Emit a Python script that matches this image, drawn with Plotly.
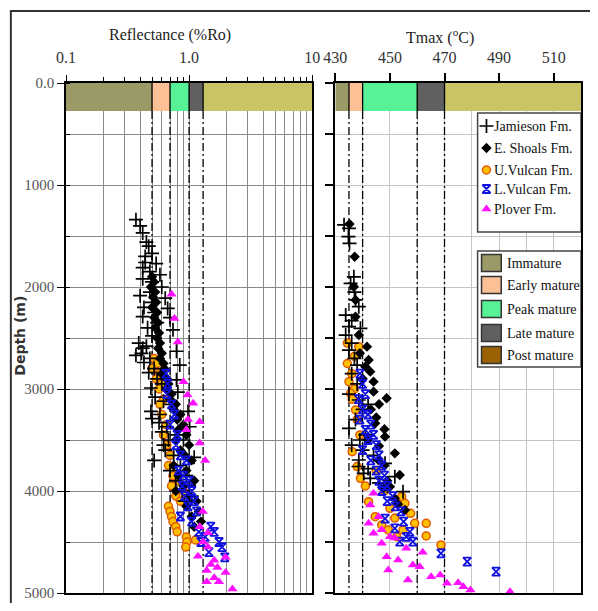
import plotly.graph_objects as go

# ---------------- DATA ----------------
# Reflectance panel: (depth m, Ro %)
jamieson_ro = [(1340,0.37),(1400,0.40),(1470,0.42),(1560,0.45),(1600,0.47),(1670,0.50),(1700,0.44),(1760,0.44),
               (1770,0.54),(1810,0.42),(1850,0.48),(1880,0.58),(1920,0.42),(1950,0.50),(2000,0.60),(2050,0.48),
               (2085,0.40),(2110,0.64),(2150,0.50),(2200,0.43),(2210,0.67),(2250,0.52),(2290,0.42),(2300,0.70),
               (2350,0.55),(2400,0.46),(2420,0.74),(2480,0.50),(2550,0.39),(2580,0.45),(2600,0.42),(2630,0.79),
               (2650,0.41),(2670,0.37),(2700,0.48),(2740,0.43),(2765,0.84),(2800,0.52),(2840,0.47),(2900,0.55),
               (2910,0.79),(2950,0.60),(2990,0.49),(3030,0.81),(3080,0.53),(3120,0.62),(3150,0.72),(3220,0.49),
               (3250,0.58),(3290,0.50),(3330,0.57),(3370,0.66),(3420,0.60),(3450,0.80),(3500,0.68),(3550,0.62),
               (3600,0.64),(3650,0.75),(3670,1.10),(3700,0.52),(3750,0.85),(3800,0.70),(3850,0.95),(3900,0.78),
               (3950,1.00),(4000,0.88),(4050,1.05),(4100,0.92),(3220,0.98),(3370,1.01),(3500,0.90)]
eshoals_ro = [(1900,0.50),(1950,0.52),(2000,0.49),(2050,0.53),(2100,0.51),(2150,0.54),(2200,0.50),(2250,0.55),
              (2300,0.52),(2350,0.56),(2400,0.53),(2450,0.57),(2500,0.55),(2550,0.58),(2600,0.56),(2650,0.60),
              (2700,0.58),(2750,0.62),(2800,0.63),(2850,0.60),(2900,0.66),(2950,0.68),(3000,0.65),(3050,0.72),
              (3100,0.70),(3150,0.78),(3200,0.75),(3250,0.85),(3300,0.80),(3350,0.90),(3400,0.82),(3450,0.95),
              (3500,0.78),(3550,1.00),(3600,0.85),(3650,0.92),(3700,1.05),(3750,0.75),(3800,0.95),(3850,0.82),
              (3900,1.10),(3950,0.90),(4000,0.78),(4050,1.00),(4100,1.15),(4150,0.95),(4200,1.20),(4250,1.05),
              (4300,1.25),(4350,1.10)]
uvulcan_ro = [(2700,0.52),(2750,0.55),(2800,0.50),(2850,0.58),(2900,0.54),(2950,0.60),(3000,0.57),(3100,0.62),
              (3150,0.58),(3250,0.60),(3350,0.65),(3450,0.62),(3550,0.66),(3650,0.70),(3750,0.68),(3850,0.74),
              (3950,0.72),(4050,0.78),(4150,0.68),(4200,0.70),(4250,0.72),(4300,0.74),(4350,0.78),(4400,0.80),
              (4450,0.95),(4500,0.96),(4550,0.94),(4480,1.13),(4100,0.85),(4000,0.90),(3900,0.82)]
lvulcan_ro = [(2850,0.65),(2950,0.67),(3050,0.66),(3150,0.72),(3250,0.76),(3350,0.70),(3450,0.80),(3550,0.78),
              (3650,0.85),(3700,0.95),(3800,0.82),(3850,0.90),(3900,1.00),(3950,0.88),(4000,1.05),(4050,0.92),
              (4100,1.10),(4150,0.98),(4200,1.15),(4250,0.85),(4300,1.05),(4350,1.50),(4400,1.60),(4450,1.35),
              (4500,1.75),(4550,1.85),(4600,1.45),(4650,1.95),(4400,1.20),(4500,1.25)]
plover_ro = [(2070,0.72),(2310,0.76),(2540,0.81),(2930,0.90),(3060,0.97),(3140,1.08),(3300,0.98),(3320,1.22),
             (3530,1.22),(3700,1.35),(3400,0.95),(4200,1.29),(4350,1.22),(4410,1.42),(4550,1.42),(4640,1.18),
             (4680,1.60),(4750,1.70),(4650,1.98),(4780,1.39),(4890,1.39),(4800,1.98),(4890,1.75),(4960,2.25),
             (4500,1.30),(4720,1.50),(4850,1.60)]

# Tmax panel: (depth m, Tmax degC)
jamieson_t = [(1390,433.2),(1425,435.0),(1507,434.8),(1572,435.2),(1900,436.8),(1964,435.6),(2050,437.0),
              (2127,437.4),(2193,438.6),(2275,433.8),(2330,436.0),(2389,435.0),(2405,439.2),(2471,433.8),
              (2550,436.0),(2618,435.0),(2700,437.0),(2765,438.0),(2850,436.0),(2950,438.0),(3050,435.0),
              (3108,438.6),(3200,440.0),(3300,437.4),(3386,435.0),(3450,441.0),(3500,439.0),(3600,440.0),
              (3650,444.0),(3696,438.6),(3729,448.2),(3780,442.0),(3827,440.4),(3860,451.8),(3876,442.8),
              (3920,446.0),(4007,454.8),(3950,449.0),(3550,436.0),(3150,442.0),(3760,438.5)]
eshoals_t = [(1382,435.2),(1703,437.1),(1997,436.8),(2127,437.4),(2291,437.4),(2471,438.6),(2585,441.6),
             (2650,439.0),(2716,442.2),(2781,441.0),(2830,442.8),(2928,444.0),(3026,444.0),(3091,448.8),
             (3200,443.0),(3337,444.6),(3395,448.0),(3467,448.2),(3500,441.8),(3560,446.0),(3631,451.8),
             (3696,445.8),(3750,448.0),(3843,453.6),(3900,449.0),(3958,450.0),(3974,447.6),(4072,451.8),
             (4130,453.0),(4186,455.5),(2900,440.0),(3150,446.0),(3280,445.0)]
uvulcan_t = [(2550,434.4),(2585,438.6),(2680,437.0),(2750,434.4),(2850,436.0),(2928,435.0),(3000,437.0),
             (3042,435.6),(3100,436.2),(3206,437.4),(3300,438.0),(3450,439.0),(3614,436.2),(3761,438.0),
             (3876,439.2),(3950,441.0),(4056,454.3),(4105,442.2),(4121,455.5),(4170,450.0),(4219,457.6),
             (4252,444.6),(4265,451.8),(4317,459.1),(4317,463.3),(4333,447.0),(4382,449.4),(4382,454.8),
             (4441,463.3),(4448,452.5),(4529,468.7),(3800,445.0),(4000,448.0)]
lvulcan_t = [(2850,439.0),(2950,440.0),(3050,441.0),(3100,438.5),(3200,440.0),(3250,442.0),(3300,439.0),
             (3350,443.0),(3400,441.0),(3450,444.0),(3500,442.0),(3550,445.0),(3600,440.0),(3650,446.0),
             (3700,443.0),(3750,447.0),(3800,445.0),(3850,448.0),(3900,446.0),(3950,449.0),(4000,447.0),
             (4050,451.0),(4100,449.0),(4150,452.0),(4200,454.0),(4270,448.2),(4366,451.8),(4400,457.3),
             (4497,453.6),(4497,458.4),(4611,468.7),(4693,478.3),(4791,488.9),(4300,455.0),(4450,456.0)]
plover_t = [(4023,444.0),(4137,442.8),(4252,445.8),(4317,442.2),(4415,444.0),(4448,450.0),(4461,451.8),
            (4513,447.0),(4562,456.0),(4644,448.8),(4676,453.0),(4725,458.4),(4742,460.9),(4775,449.4),
            (4824,468.4),(4840,465.1),(4873,456.6),(4899,475.0),(4905,470.9),(4938,476.9),(4971,479.5),
            (4987,494.0),(4380,447.0),(4600,462.0)]

formations = ["Jamieson Fm.", "E. Shoals Fm.", "U.Vulcan Fm.", "L.Vulcan Fm.", "Plover Fm."]
maturity_names = ["Immature", "Early mature", "Peak mature", "Late mature", "Post mature"]
maturity_legend_colors = ["#9b9a66", "#fbc095", "#58f296", "#606060", "#9a6200"]
band_colors = ["#9b9a66", "#fbc095", "#58f296", "#606060", "#c9c466"]
ro_bounds = [0.1, 0.5, 0.7, 1.0, 1.3, 10]          # maturity window limits, %Ro
tmax_bounds = [430, 435, 440, 460, 470, 520]       # maturity window limits, degC
band_depth = 275
ro_ticks = [0.1, 1, 10]
ro_ticktext = ["0.1", "1.0", "10"]
ro_minor = [0.2, 0.3, 0.4, 0.5, 0.6, 0.7, 0.8, 0.9, 2, 3, 4, 5, 6, 7, 8, 9]
t_ticks = [430, 450, 470, 490, 510]
t_minor = [440, 460, 480, 500, 520]
depth_ticks = [0, 1000, 2000, 3000, 4000, 5000]
depth_ticktext = ["0.0", "1000", "2000", "3000", "4000", "5000"]

# ---------------- STYLE ----------------
SERIF = "Liberation Serif"
styles = [
    dict(symbol="cross-thin", size=10, color="black", line=dict(color="black", width=1.7)),
    dict(symbol="diamond", size=8, color="black", line=dict(color="black", width=0)),
    dict(symbol="circle", size=8, color="#ffc000", line=dict(color="#e05a00", width=1.5)),
    dict(symbol="hourglass-open", size=8, color="#1010e0", line=dict(color="#1010e0", width=1.8)),
    dict(symbol="triangle-up", size=9, color="#ff10ff", line=dict(color="#ff10ff", width=0)),
]
ro_sets = [jamieson_ro, eshoals_ro, uvulcan_ro, lvulcan_ro, plover_ro]
t_sets = [jamieson_t, eshoals_t, uvulcan_t, lvulcan_t, plover_t]
draw_order = [2, 0, 1, 3, 4]

# The page body has an 8px margin; figure is sized so no scrollbars appear.
OFF = 8
W, H = 582, 595
ML, MR, MT, MB = 58, 1, 75, 10
PW, PH = W - ML - MR, H - MT - MB


def px(x):      # page pixel x -> paper x
    return (x - OFF - ML) / PW


def py(y):      # page pixel y -> paper y
    return (H - MB - (y - OFF)) / PH


fig = go.Figure()
for i in draw_order:
    d, v = zip(*ro_sets[i])
    fig.add_trace(go.Scatter(x=v, y=d, mode="markers", marker=styles[i], name=formations[i],
                             xaxis="x", yaxis="y", showlegend=False))
for i in draw_order:
    d, v = zip(*t_sets[i])
    fig.add_trace(go.Scatter(x=v, y=d, mode="markers", marker=styles[i], name=formations[i],
                             xaxis="x2", yaxis="y2", showlegend=False))

shapes = []
for (xr, yr, bounds) in [("x", "y", ro_bounds), ("x2", "y2", tmax_bounds)]:
    for k in range(5):
        shapes.append(dict(type="rect", xref=xr, yref=yr, x0=bounds[k], x1=bounds[k + 1], y0=0, y1=band_depth,
                           fillcolor=band_colors[k], line=dict(width=0), layer="between"))
    for b in bounds[1:5]:
        shapes.append(dict(type="line", xref=xr, yref=yr, x0=b, x1=b, y0=0, y1=band_depth,
                           line=dict(color="black", width=1.3), layer="between"))
        shapes.append(dict(type="line", xref=xr, yref=yr, x0=b, x1=b, y0=band_depth, y1=5000,
                           line=dict(color="black", width=1.3, dash="8px,3px,2px,3px"), layer="between"))

# legend boxes (overlay subplot x3/y3 is in page-pixel units over the plot area)
shapes.append(dict(type="rect", xref="x3", yref="y3", x0=484, x1=589, y0=113, y1=232,
                   fillcolor="white", line=dict(color="#444", width=1.5), layer="below"))
shapes.append(dict(type="rect", xref="x3", yref="y3", x0=484, x1=589, y0=251, y1=367,
                   fillcolor="white", line=dict(color="#444", width=1.5), layer="below"))
leg2_y = [263, 285, 309, 333, 355]
for k in range(5):
    shapes.append(dict(type="rect", xref="x3", yref="y3", x0=488, x1=508, y0=leg2_y[k] - 8.5, y1=leg2_y[k] + 8.5,
                       fillcolor=maturity_legend_colors[k], line=dict(color="#333", width=1.5), layer="below"))
# outer frame
shapes.append(dict(type="rect", xref="paper", yref="paper", x0=px(10), x1=px(660), y0=py(680), y1=py(11),
                   line=dict(color="#333", width=2), fillcolor="rgba(0,0,0,0)", layer="above"))

leg1_y = [126, 148, 170, 189, 209]
for i in range(5):
    fig.add_trace(go.Scatter(x=[493], y=[leg1_y[i]], mode="markers", marker=styles[i],
                             xaxis="x3", yaxis="y3", showlegend=False, hoverinfo="skip"))

annotations = []
for i in range(5):
    annotations.append(dict(x=499, y=leg1_y[i], xref="x3", yref="y3", text=formations[i], showarrow=False,
                            xanchor="left", yanchor="middle", font=dict(family=SERIF, size=14, color="#111")))
for k in range(5):
    annotations.append(dict(x=512, y=leg2_y[k], xref="x3", yref="y3", text=maturity_names[k], showarrow=False,
                            xanchor="left", yanchor="middle", font=dict(family=SERIF, size=14, color="#111")))
annotations.append(dict(x=px(172), y=py(35), xref="paper", yref="paper", text="Reflectance (%Ro)",
                        xanchor="center", yanchor="middle",
                        showarrow=False, font=dict(family=SERIF, size=16, color="#222")))
annotations.append(dict(x=px(446), y=py(36), xref="paper", yref="paper", text="Tmax (<sup>o</sup>C)",
                        xanchor="center", yanchor="middle",
                        showarrow=False, font=dict(family=SERIF, size=16, color="#222")))
annotations.append(dict(x=px(19), y=py(336), xref="paper", yref="paper", text="<b>Depth (m)</b>",
                        xanchor="center", yanchor="middle",
                        textangle=-90, showarrow=False, font=dict(family="DejaVu Sans", size=14, color="#333")))

axis_common = dict(showline=True, linecolor="black", linewidth=1.5, mirror=True, zeroline=False)

fig.update_layout(
    width=W, height=H, margin=dict(l=ML, r=MR, t=MT, b=MB),
    paper_bgcolor="white", plot_bgcolor="rgba(0,0,0,0)",
    showlegend=False,
    xaxis=dict(type="log", range=[-1, 1], domain=[0, px(316)], side="top", anchor="y",
               tickvals=ro_ticks, ticktext=ro_ticktext, ticks="outside", ticklen=6, tickwidth=1.3,
               tickcolor="black", ticklabelstandoff=6,
               tickfont=dict(family=SERIF, size=16, color="#333"),
               showgrid=True, gridcolor="#8a8a8a", gridwidth=1,
               minor=dict(tickvals=ro_minor, ticks="outside", ticklen=4, tickcolor="black",
                          showgrid=True, gridcolor="#8a8a8a", gridwidth=1), **axis_common),
    yaxis=dict(range=[5000, 0], domain=[0, 1], anchor="x", tickvals=depth_ticks, ticktext=depth_ticktext,
               ticks="outside", ticklen=7, tickwidth=1.3, tickcolor="black",
               tickfont=dict(family=SERIF, size=15, color="#555"),
               showgrid=True, gridcolor="#8a8a8a", gridwidth=1,
               minor=dict(dtick=500, ticks="inside", ticklen=4, tickcolor="black",
                          showgrid=True, gridcolor="#8a8a8a", gridwidth=1), **axis_common),
    xaxis2=dict(range=[430, 520], domain=[px(339.5), 1], side="top", anchor="y2",
                tickvals=t_ticks, ticks="outside", ticklen=8, tickwidth=1.5, tickcolor="black",
                ticklabelstandoff=4,
                tickfont=dict(family=SERIF, size=16, color="#333"),
                showgrid=True, gridcolor="#c4c4c4", gridwidth=1,
                minor=dict(tickvals=t_minor, ticks="", showgrid=True, gridcolor="#c4c4c4", gridwidth=1),
                **axis_common),
    yaxis2=dict(range=[5000, 0], domain=[0, 1], anchor="x2", dtick=500, showticklabels=False,
                ticks="outside", ticklen=9, tickwidth=1.5, tickcolor="black",
                showgrid=True, gridcolor="#c4c4c4", gridwidth=1, **axis_common),
    xaxis3=dict(range=[ML + OFF, ML + OFF + PW], domain=[0, 1], anchor="y3", visible=False, fixedrange=True),
    yaxis3=dict(range=[MT + OFF + PH, MT + OFF], domain=[0, 1], anchor="x3", visible=False, fixedrange=True),
    shapes=shapes, annotations=annotations,
)

fig.write_html("out.html")
